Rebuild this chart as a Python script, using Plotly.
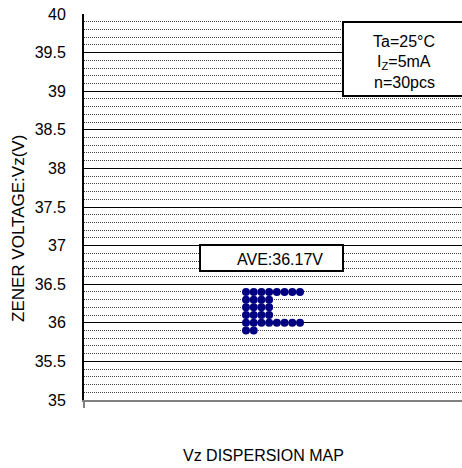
import plotly.graph_objects as go

# Data: voltage bins (V) and number of samples in each bin
levels = [36.4, 36.3, 36.2, 36.1, 36.0, 35.9]
counts = [8, 4, 4, 4, 8, 2]
x_start = 21  # first column position in the dispersion map

y_ticks = [35, 35.5, 36, 36.5, 37, 37.5, 38, 38.5, 39, 39.5, 40]
y_tick_text = ["35", "35.5", "36", "36.5", "37", "37.5", "38", "38.5", "39", "39.5", "40"]

xs, ys = [], []
for lv, c in zip(levels, counts):
    for i in range(c):
        xs.append(x_start + i)
        ys.append(lv)

W, H = 462, 468
L, R, T, B = 84, 0, 14, 68
pw, ph = W - L - R, H - T - B

def px2paper_x(px):
    return (px - L) / pw

def py2paper_y(py):
    return 1 - (py - T) / ph

font = "Liberation Sans, Arial, sans-serif"
FS = 16

fig = go.Figure()
fig.add_trace(go.Scatter(
    x=xs, y=ys, mode="markers",
    marker=dict(size=8, color="#000080", line=dict(width=0)),
    showlegend=False, hoverinfo="skip"))

fig.update_layout(
    width=W, height=H,
    margin=dict(l=L, r=R, t=T, b=B, pad=0),
    paper_bgcolor="white", plot_bgcolor="white",
    font=dict(family=font, size=FS, color="black"),
    xaxis=dict(range=[0, 49], showgrid=False, zeroline=False,
               showticklabels=False, tickvals=[0], ticks="outside",
               ticklen=6, tickwidth=2, tickcolor="#808080",
               showline=True, linecolor="#808080", linewidth=2),
    yaxis=dict(range=[35, 40], tickvals=y_ticks, ticktext=y_tick_text,
               showgrid=True, gridcolor="black", gridwidth=1,
               zeroline=False, ticks="", ticklabelstandoff=13,
               ticklabeloverflow="allow",
               tickfont=dict(size=FS, family=font),
               showline=True, linecolor="black", linewidth=2,
               minor=dict(dtick=0.1, showgrid=True, gridcolor="#444444",
                          griddash="1px,1px", gridwidth=1)),
)

# Condition box (top right)
fig.add_shape(type="rect", xref="paper", yref="paper",
              x0=px2paper_x(343), x1=px2paper_x(470),
              y0=py2paper_y(96), y1=py2paper_y(22),
              line=dict(color="black", width=2), fillcolor="white", layer="above")
for txt, py in [("Ta=25°C", 41), ("I<sub>Z</sub>=5mA", 62), ("n=30pcs", 83)]:
    fig.add_annotation(xref="paper", yref="paper", x=px2paper_x(404), y=py2paper_y(py),
                       text=txt, showarrow=False, xanchor="center", yanchor="middle",
                       font=dict(size=FS, family=font, color="black"))

# Average box
fig.add_shape(type="rect", xref="paper", yref="paper",
              x0=px2paper_x(200), x1=px2paper_x(343),
              y0=py2paper_y(271), y1=py2paper_y(245),
              line=dict(color="black", width=2), fillcolor="white", layer="above")
fig.add_annotation(xref="paper", yref="paper", x=px2paper_x(280), y=py2paper_y(259),
                   text="AVE:36.17V", showarrow=False, xanchor="center", yanchor="middle",
                   font=dict(size=FS, family=font, color="black"))

# Axis titles
fig.add_annotation(xref="paper", yref="paper", x=px2paper_x(18), y=py2paper_y(229),
                   text="ZENER VOLTAGE:Vz(V)", textangle=-90, showarrow=False,
                   xanchor="center", yanchor="middle",
                   font=dict(size=17, family=font, color="black"))
fig.add_annotation(xref="paper", yref="paper", x=px2paper_x(263), y=py2paper_y(455),
                   text="Vz DISPERSION MAP", showarrow=False,
                   xanchor="center", yanchor="middle",
                   font=dict(size=FS, family=font, color="black"))

fig.write_html("out.html",
               config={"displayModeBar": False},
               post_script="document.body.style.margin='0px';document.body.style.overflow='hidden';")
